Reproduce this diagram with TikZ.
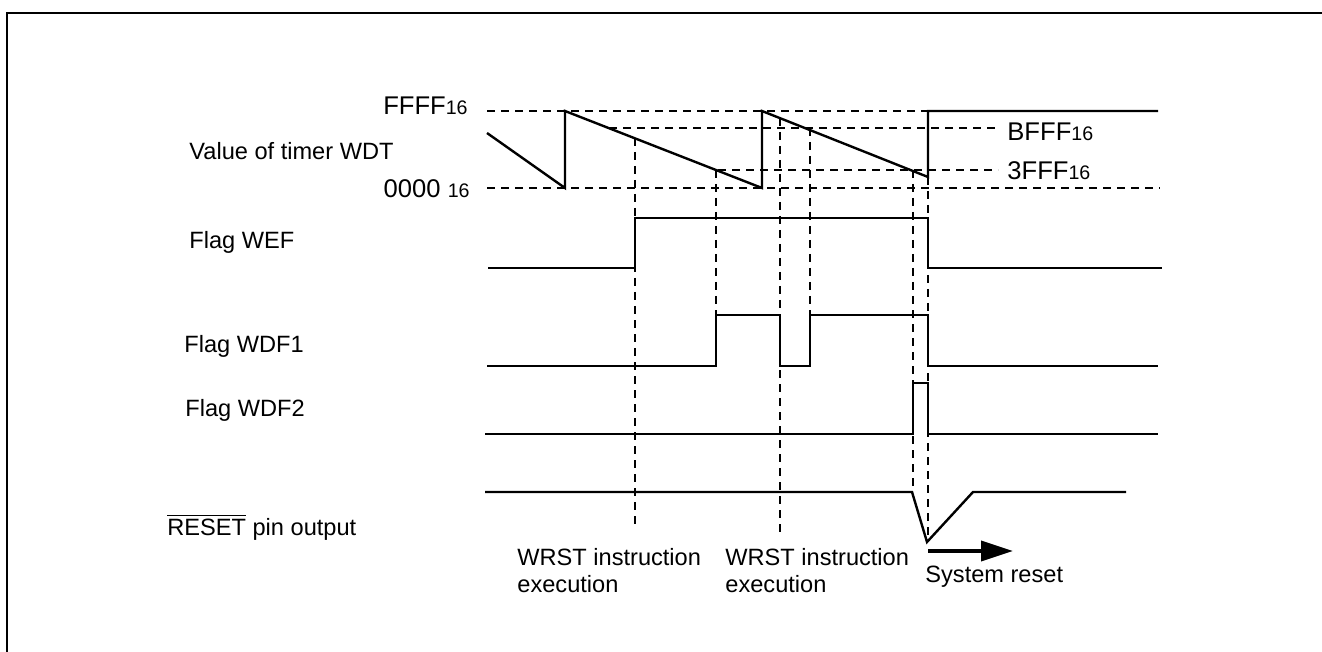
\documentclass[tikz,border=0pt]{standalone}
\usepackage{fontspec}
\setmainfont{Liberation Sans}
\usetikzlibrary{arrows.meta}

\newcommand{\hexsub}[1]{{\fontsize{9.8}{11}\selectfont #1}}

\begin{document}
\begin{tikzpicture}[x=0.5pt,y=-0.5pt,
		sig/.style={line width=1.2pt, line join=miter},
		guide/.style={line width=0.6pt, dash pattern=on 4pt off 3pt},
		lbl/.style={inner sep=0pt, font=\fontsize{11.8}{13.5}\selectfont},
		hex/.style={inner sep=0pt, font=\fontsize{12.8}{14}\selectfont}]
		\useasboundingbox (0,0) rectangle (1322,652);
		\clip (0,0) rectangle (1322,652);
		\draw [line width=1.4pt] (7,13) rectangle (1340,670);

		% moments in time
		\coordinate (WRSTA) at (635,0);
		\coordinate (WDFA) at (716,0);
		\coordinate (WRSTB) at (780,0);
		\coordinate (WDFB) at (810,0);
		\coordinate (WDFC) at (913,0);
		\coordinate (RST) at (928,0);

		% timer levels
		\draw [guide] (487,111) -- (RST |- 0,111);
		\draw [guide] (609,128) -- (1000,128);
		\draw [guide] (718,170) -- (998,170);
		\draw [guide] (487,188) -- (1160,188);

		% vertical guides
		\draw [guide] (WRSTA |- 0,138) -- (WRSTA |- 0,528);
		\draw [guide] (WDFA |- 0,170) -- (WDFA |- 0,315);
		\draw [guide] (WRSTB |- 0,118) -- (WRSTB |- 0,533);
		\draw [guide] (WDFB |- 0,128) -- (WDFB |- 0,315);
		\draw [guide] (WDFC |- 0,170) -- (WDFC |- 0,492);
		\draw [guide] (RST |- 0,177) -- (RST |- 0,540);

		% value of timer WDT
		\draw [sig] (487,133) -- (565,188) -- (565,111) -- (762,188) -- (762,111) -- (RST |- 0,177) -- (RST |- 0,111) -- (1158,111);

		% flags
		\draw [sig] (488,268) -- (WRSTA |- 0,268) -- (WRSTA |- 0,218) -- (RST |- 0,218) -- (RST |- 0,268) -- (1162,268);
		\draw [sig] (487,366) -- (WDFA |- 0,366) -- (WDFA |- 0,315) -- (WRSTB |- 0,315) -- (WRSTB |- 0,366)
			-- (WDFB |- 0,366) -- (WDFB |- 0,315) -- (RST |- 0,315) -- (RST |- 0,366) -- (1158,366);
		\draw [sig] (485,434) -- (WDFC |- 0,434) -- (WDFC |- 0,383) -- (RST |- 0,383) -- (RST |- 0,434) -- (1158,434);

		% reset pin
		\draw [sig] (485,492) -- (912,492) -- (927,542) -- (973,492) -- (1126,492);
		\draw [line width=1.8pt, -{Triangle[length=16pt,width=10pt]}] (RST |- 0,551) -- (1013,551);

		\node [hex, anchor=base east] (ffff) at (468,115) {FFFF\hexsub{16}};
		\node [hex, anchor=base east] (zero) at (470,198) {0000 \hexsub{16}};
		\node [hex, anchor=base west] (bfff) at (1007,141) {BFFF\hexsub{16}};
		\node [hex, anchor=base west] (tfff) at (1007,180) {3FFF\hexsub{16}};

		\node [lbl, anchor=base west] (wdt) at (189,160) {Value of timer WDT};
		\node [lbl, anchor=base west] (wef) at (189,249) {Flag WEF};
		\node [lbl, anchor=base west] (wdfone) at (184,352) {Flag WDF1};
		\node [lbl, anchor=base west] (wdftwo) at (185,416) {Flag WDF2};
		\node [lbl, anchor=base west] (resetpin) at (167,535) {$\overline{\mbox{RESET}}$ pin output};

		\node [lbl, anchor=north west, align=left] (wrsta) at (517,548) {WRST instruction\\execution};
		\node [lbl, anchor=north west, align=left] (wrstb) at (725,548) {WRST instruction\\execution};
		\node [lbl, anchor=base west] (sysreset) at (925,582) {System reset};
	\end{tikzpicture}
\end{document}
